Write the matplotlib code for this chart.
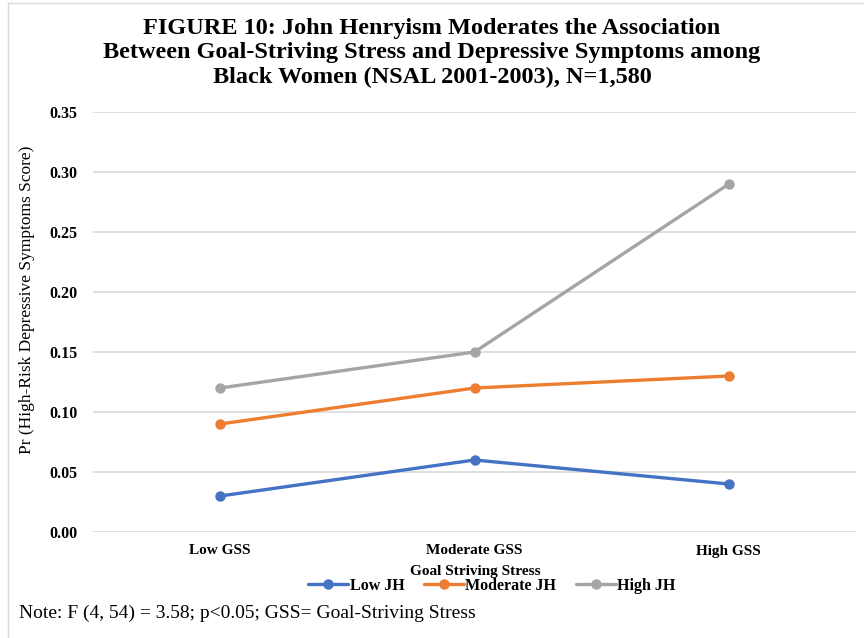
import numpy as np
import matplotlib.pyplot as plt
from matplotlib.lines import Line2D

plt.rcParams['font.family'] = ['Liberation Serif', 'DejaVu Serif']

# predicted probabilities by goal-striving stress level
categories = ['Low GSS', 'Moderate GSS', 'High GSS']
low_jh = [0.03, 0.06, 0.04]
moderate_jh = [0.09, 0.12, 0.13]
high_jh = [0.12, 0.15, 0.29]
series_names = ['Low JH', 'Moderate JH', 'High JH']
colors = ['#4472C4', '#ED7D31', '#A5A5A5']
yticks = [0.00, 0.05, 0.10, 0.15, 0.20, 0.25, 0.30, 0.35]

W, H = 864, 638
fig = plt.figure(figsize=(W / 100, H / 100), dpi=100)
ax = fig.add_axes([93 / W, 1 - 532 / H, (856 - 93) / W, (532 - 112) / H])

x = np.arange(len(categories))
for vals, name, c in zip([low_jh, moderate_jh, high_jh], series_names, colors):
    ax.plot(x, vals, color=c, lw=2.4, marker='o', ms=6.5, label=name,
            solid_capstyle='round', zorder=3)

ax.set_xlim(-0.5, len(categories) - 0.5)
ax.set_ylim(0, 0.35)
ax.set_yticks(yticks)
ax.set_yticklabels(['%.2f' % v for v in yticks], fontweight='bold', fontsize=11.5)
ax.set_xticks(x)
ax.set_xticklabels(categories, fontweight='bold', fontsize=11)
ax.tick_params(length=0)
ax.tick_params(axis='y', pad=11)
ax.tick_params(axis='x', pad=9)
ax.grid(axis='y', color='#D9D9D9', lw=1.2)
ax.set_axisbelow(True)
for s in ax.spines.values():
    s.set_visible(False)

ax.set_ylabel('Pr (High-Risk Depressive Symptoms Score)', fontsize=12.5)
ax.yaxis.set_label_coords((35 - 93) / 763, (532 - 300) / 420)
fig.text(475 / W, 1 - 572 / H, 'Goal Striving Stress', ha='center', va='center',
         fontsize=11, fontweight='bold')

fig.legend(loc='center', bbox_to_anchor=(492 / W, 1 - 586 / H), ncol=3, frameon=False,
           prop={'weight': 'bold', 'size': 11.5}, handlelength=2.5, handletextpad=0.1,
           columnspacing=1.2, borderaxespad=0)

fig.text(0.5, 1 - 53 / H,
         'FIGURE 10: John Henryism Moderates the Association\n'
         'Between Goal-Striving Stress and Depressive Symptoms among\n'
         'Black Women (NSAL 2001-2003), N=1,580',
         ha='center', va='center', fontsize=17.5, fontweight='bold', linespacing=1.2)

fig.text(19 / W, 1 - 613 / H, 'Note: F (4, 54) = 3.58; p<0.05; GSS= Goal-Striving Stress',
         ha='left', va='center', fontsize=14)

# thin frame along the top and left edges
fig.add_artist(Line2D([8 / W, 1], [1 - 3 / H, 1 - 3 / H], color='#D9D9D9', lw=1))
fig.add_artist(Line2D([8 / W, 8 / W], [0, 1 - 3 / H], color='#D9D9D9', lw=1))

fig.savefig('out.png', dpi=100)
